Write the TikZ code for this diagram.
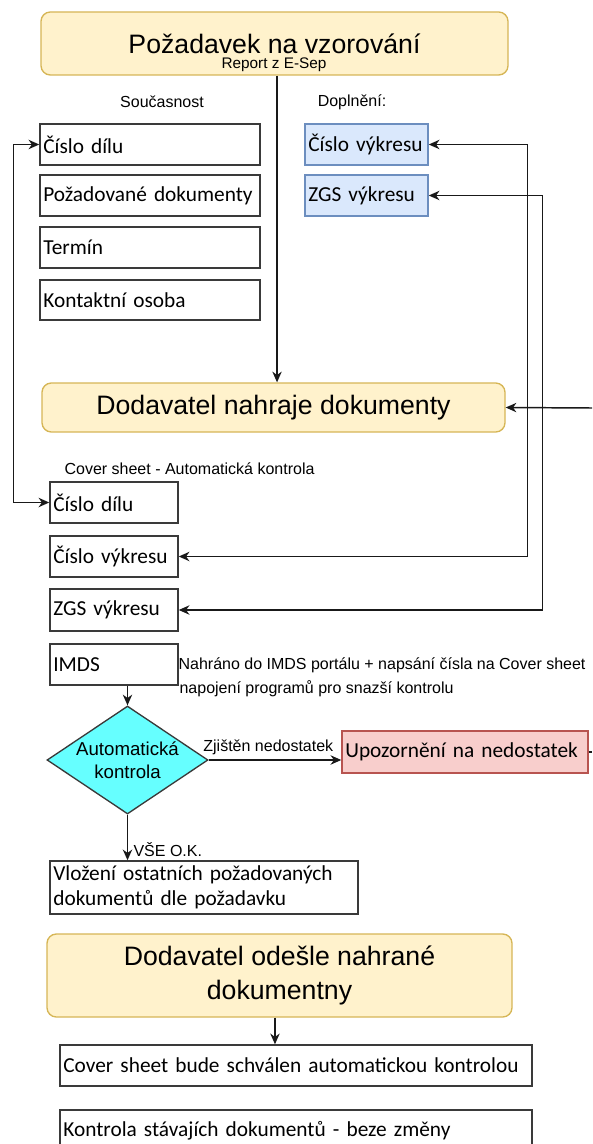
\documentclass[tikz,border=0pt]{standalone}
\usepackage{fontspec}
\setmainfont{Liberation Sans}
\newfontfamily\calf{Carlito}
\usetikzlibrary{arrows.meta,shapes.geometric}

\definecolor{yfill}{HTML}{FFF2CC}
\definecolor{yline}{HTML}{D6B656}
\definecolor{bfill}{HTML}{DAE8FC}
\definecolor{bline}{HTML}{6C8EBF}
\definecolor{rfill}{HTML}{F8CECC}
\definecolor{rline}{HTML}{B85450}
\definecolor{cfill}{HTML}{66FFFF}
\definecolor{boxline}{HTML}{3A3A3A}

\tikzset{
  docbox/.style 2 args={draw=boxline, line width=1.1pt, fill=white,
    inner xsep=2.5pt, inner ysep=0pt, text width=#1, minimum height=#2,
    align=left, font=\calf\fontsize{16}{19.2}\selectfont},
  bluebox/.style 2 args={docbox={#1}{#2}, draw=bline, fill=bfill},
  redbox/.style 2 args={docbox={#1}{#2}, draw=rline, fill=rfill},
  procbox/.style 2 args={draw=yline, fill=yfill, line width=1pt,
    rounded corners=7pt, minimum width=#1, minimum height=#2,
    inner sep=0pt, align=center, font=\fontsize{20}{26}\selectfont},
  lbl/.style={inner sep=1pt, font=\fontsize{12}{14}\selectfont},
  conn/.style={draw=black!90, line width=1.1pt},
  >={Stealth[length=8pt,width=7pt,inset=2.5pt]}
}

\begin{document}
\begin{tikzpicture}[x=0.75pt,y=-0.75pt]
\useasboundingbox (0,0) rectangle (592,1144);

% request from the customer
\node[procbox={350.25pt}{47.25pt}] (top) at (274.5,43.5) {Požadavek na vzorování};
\node[lbl, font=\fontsize{11.5}{13}\selectfont] (rep) at (274,65) {Report z E-Sep};

% column headings
\node[lbl] (lsouc) at (162,102) {Současnost};
\node[lbl] (ldopl) at (352,102) {Doplnění:};

% current data
\node[docbox={160pt}{30.75pt}] (cdA) at (150,144.5) {Číslo dílu};
\node[docbox={160pt}{30.75pt}] (pdA) at (150,195.5) {Požadované dokumenty};
\node[docbox={160pt}{30.75pt}] (tA)  at (150,247.5) {Termín};
\node[docbox={160pt}{30pt}]    (koA) at (150,300)   {Kontaktní osoba};

% additions
\node[bluebox={87.25pt}{30.75pt}] (cvA) at (366.5,144.5) {Číslo výkresu};
\node[bluebox={87.25pt}{30.75pt}] (zgA) at (366.5,195.5) {ZGS výkresu};

% supplier upload
\node[procbox={347.25pt}{36.75pt}] (nahr) at (273.5,407.5) {Dodavatel nahraje dokumenty};

\node[lbl, anchor=west] (lcover) at (63,469) {Cover sheet - Automatická kontrola};

\node[docbox={91pt}{30.75pt}] (cdB)  at (114,502.5) {Číslo dílu};
\node[docbox={91pt}{30.75pt}] (cvB)  at (114,556.5) {Číslo výkresu};
\node[docbox={91pt}{31.5pt}]  (zgB)  at (114,610)   {ZGS výkresu};
\node[docbox={91pt}{30.75pt}] (imds) at (114,664.5) {IMDS};

\node[lbl, anchor=west] (limdsA) at (177,665) {Nahráno do IMDS portálu + napsání čísla na Cover sheet};
\node[lbl, anchor=west] (limdsB) at (178,689) {napojení programů pro snazší kontrolu};

% automatic check
\node[diamond, draw=boxline, fill=cfill, line width=1pt, inner sep=0pt,
      minimum width=120.75pt, minimum height=81pt] (diam) at (127.5,760) {};
\node[align=center, inner sep=0pt, font=\fontsize{14}{17}\selectfont] (dtxt) at (diam.center) {Automatická\\kontrola};

\node[redbox={179.5pt}{31.5pt}] (upoz) at (465,752) {Upozornění na nedostatek};

\node[docbox={226pt}{39.75pt}] (vloz) at (204,887.5) {Vložení ostatních požadovaných\\dokumentů dle požadavku};

% sending
\node[procbox={348.75pt}{62.25pt}] (odes) at (279.5,975.5) {Dodavatel odešle nahrané\\dokumentny};

\node[docbox={349pt}{30.75pt}] (cover) at (296,1065.5) {Cover sheet bude schválen automatickou kontrolou};
\node[docbox={349pt}{30.75pt}] (kontr) at (296,1130.5) {Kontrola stávajích dokumentů - beze změny};

% connectors
\draw[conn,->] ([xshift=1.9pt]top.south) -- ([xshift=1.9pt]top.south |- nahr.north);
\draw[conn,<->] (cvA.east) -- ++(99,0) |- (cvB.east);
\draw[conn,<->] (zgA.east) -- ++(114,0) |- (zgB.east);
\draw[conn,<->] (cdA.west) -- ++(-26,0) |- (cdB.west);
\coordinate (inR) at (592,408);
\draw[conn,->] (inR) -- (nahr.east);
\draw[conn,->] (imds.south -| diam.north) -- (diam.north);
\draw[conn,->] (diam.east) -- (diam.east -| upoz.west)
  node[lbl, pos=0.45, above=2pt] (lzj) {Zjištěn nedostatek};
\coordinate (outR) at (592,752);
\draw[conn] (upoz.east) -- (outR);
\draw[conn,->] (diam.south) -- (diam.south |- vloz.north)
  node[lbl, pos=0.76, right=3pt] (lok) {VŠE O.K.};
\draw[conn,->] ([xshift=-3.4pt]odes.south) -- ([xshift=-3.4pt]odes.south |- cover.north);
\end{tikzpicture}
\end{document}
